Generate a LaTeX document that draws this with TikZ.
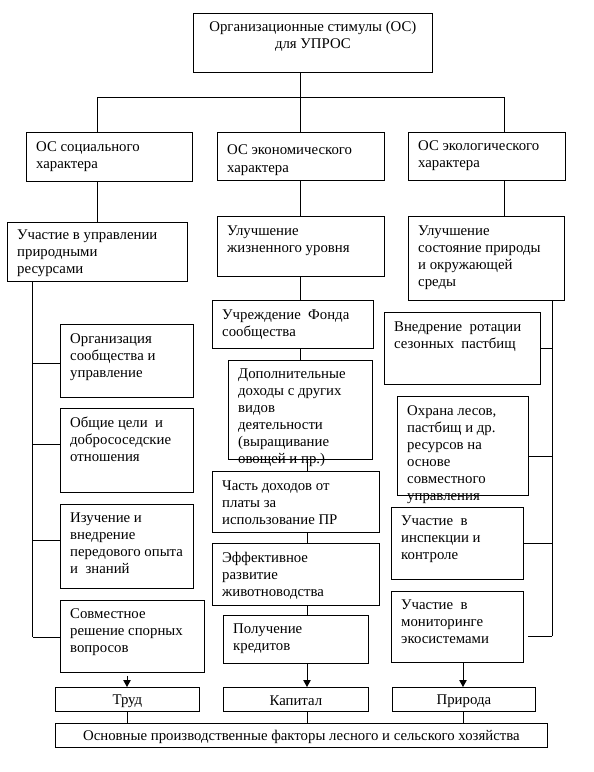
\documentclass[tikz,border=0pt]{standalone}
\usepackage{fontspec}
\setmainfont{Liberation Serif}
\usetikzlibrary{arrows.meta,calc}
\newcommand\fs{\fontsize{14.8}{17}\selectfont}
\tikzset{
  box/.style={draw, line width=0.8pt, inner sep=0pt, anchor=north west},
  txt/.style={inner sep=0pt, anchor=north west, align=left, font=\fs},
  ctxt/.style={inner sep=0pt, anchor=north, align=center, font=\fs},
  mtxt/.style={inner sep=0pt, anchor=center, align=center, font=\fs},
  ln/.style={line width=0.8pt},
  arr/.style={line width=0.8pt, -{Triangle[width=7.5pt,length=7pt]}},
}
% name, x, y, w, h, extra y shift, text
\newcommand\mkbox[7]{%
  \node[box, minimum width=#4pt, minimum height=#5pt] (#1) at (#2,#3) {};
  \node[txt] (#1-t) at ([xshift=10pt,yshift=-7pt+#6pt]#1.north west) {\strut #7};
}
\begin{document}
\begin{tikzpicture}[x=1pt,y=-1pt]
\useasboundingbox (0,0) rectangle (594,772);
\fill[white] (0,0) rectangle (594,772);

% top
\node[box, minimum width=239pt, minimum height=59pt] (top) at (193,13) {};
\node[ctxt] (top-t) at ([yshift=-6.5pt]top.north) {\strut Организационные стимулы (ОС)\\для УПРОС};

% row 2
\mkbox{soc}{26}{132}{166}{49}{0}{ОС социального\\характера}
\node[box, minimum width=167pt, minimum height=48pt] (eco2) at (217,132) {};
\node[txt, font=\fontsize{14.8}{18}\selectfont] (eco2-t) at ([xshift=10pt,yshift=-9.5pt]eco2.north west) {\strut ОС экономического\\характера};
\mkbox{ecl}{408}{132}{157}{48}{1}{ОС экологического\\характера}

% social column
\mkbox{upr}{7}{222}{180}{59}{2}{Участие в управлении\\природными\\ресурсами}
\mkbox{org}{60}{324}{133}{73}{0}{Организация\\сообщества и\\управление}
\mkbox{obsh}{60}{408}{133}{84}{0}{Общие цели \ и\\добрососедские\\отношения}
\mkbox{izuch}{60}{504}{133}{84}{0.5}{Изучение и\\внедрение\\передового опыта\\и \ знаний}
\mkbox{sovm}{60}{600}{144}{72}{0.5}{Совместное\\решение спорных\\вопросов}

% economic column
\mkbox{zhiz}{217}{216}{167}{60}{0}{Улучшение\\жизненного уровня}
\mkbox{fond}{212}{300}{161}{48}{0}{Учреждение \ Фонда\\сообщества}
\mkbox{dop}{228}{360}{144}{99}{0.5}{Дополнительные\\доходы с других\\видов\\деятельности\\(выращивание\\овощей и пр.)}
\mkbox{chast}{212}{471}{167}{61}{0}{Часть доходов от\\платы за\\использование ПР}
\mkbox{eff}{212}{543}{167}{62}{0}{Эффективное\\развитие\\животноводства}
\mkbox{kred}{223}{615}{145}{48}{0.5}{Получение\\кредитов}

% ecological column
\mkbox{sost}{408}{216}{156}{84}{0}{Улучшение\\состояние природы\\и окружающей\\среды}
\mkbox{rot}{384}{312}{156}{72}{0}{Внедрение \ ротации\\сезонных \ пастбищ}
\mkbox{ohr}{397}{396}{131}{99}{0}{Охрана лесов,\\пастбищ и др.\\ресурсов на\\основе\\совместного\\управления}
\mkbox{insp}{391}{507}{132}{72}{0.5}{Участие \ в\\инспекции и\\контроле}
\mkbox{mon}{391}{591}{132}{71}{0.5}{Участие \ в\\мониторинге\\экосистемами}

% bottom
\node[box, minimum width=144pt, minimum height=24pt] (trud) at (55,687) {};
\node[mtxt] (trud-t) at ([yshift=-1.5pt]trud.center) {Труд};
\node[box, minimum width=145pt, minimum height=24pt] (kap) at (223,687) {};
\node[mtxt] (kap-t) at ([yshift=-1.5pt]kap.center) {Капитал};
\node[box, minimum width=143pt, minimum height=24pt] (prir) at (392,687) {};
\node[mtxt] (prir-t) at ([yshift=-1.5pt]prir.center) {Природа};
\node[box, minimum width=492pt, minimum height=24pt] (osn) at (55,723) {};
\node[mtxt] (osn-t) at ([yshift=-1.5pt]osn.center) {Основные производственные факторы лесного и сельского хозяйства};

% bus
\coordinate (bL) at (97,97);
\coordinate (bM) at (300,97);
\coordinate (bR) at (504,97);
\draw[ln] (bM |- top.south) -- (bM);
\draw[ln] (bL) -- (bR);
\draw[ln] (bL) -- (bL |- soc.north);
\draw[ln] (bM) -- (bM |- eco2.north);
\draw[ln] (bR) -- (bR |- ecl.north);
\draw[ln] (bL |- soc.south) -- (bL |- upr.north);
\draw[ln] (bM |- eco2.south) -- (bM |- zhiz.north);
\draw[ln] (bR |- ecl.south) -- (bR |- sost.north);

% economic chain
\coordinate (eX) at (307,0);
\draw[ln] (bM |- zhiz.south) -- (bM |- fond.north);
\draw[ln] (bM |- fond.south) -- (bM |- dop.north);
\draw[ln] (eX |- dop.south) -- (eX |- chast.north);
\draw[ln] (eX |- chast.south) -- (eX |- eff.north);
\draw[ln] (eX |- eff.south) -- (eX |- kred.north);

% left spine
\coordinate (lX) at (32.5,0);
\coordinate (l1) at (32.5,363);
\coordinate (l2) at (32.5,444);
\coordinate (l3) at (32.5,540);
\coordinate (l4) at (32.5,637);
\draw[ln] (lX |- upr.south) -- (l4);
\draw[ln] (l1) -- (l1 -| org.west);
\draw[ln] (l2) -- (l2 -| obsh.west);
\draw[ln] (l3) -- (l3 -| izuch.west);
\draw[ln] (l4) -- (l4 -| sovm.west);

% right spine
\coordinate (rX) at (552,0);
\coordinate (r1) at (552,348);
\coordinate (r2) at (552,456);
\coordinate (r3) at (552,543);
\coordinate (r4) at (552,636);
\coordinate (r4e) at (528,636);
\draw[ln] (rX |- sost.south) -- (r4);
\draw[ln] (r1) -- (r1 -| rot.east);
\draw[ln] (r2) -- (r2 -| ohr.east);
\draw[ln] (r3) -- (r3 -| insp.east);
\draw[ln] (r4) -- (r4e);

% arrows to factors
\coordinate (tX) at (127,0);
\coordinate (pX) at (463,0);
\draw[arr, shorten <=3pt] (tX |- sovm.south) -- (tX |- trud.north);
\draw[arr] (eX |- kred.south) -- (eX |- kap.north);
\draw[arr] (pX |- mon.south) -- (pX |- prir.north);
\draw[ln] (tX |- trud.south) -- (tX |- osn.north);
\draw[ln] (eX |- kap.south) -- (eX |- osn.north);
\draw[ln] (pX |- prir.south) -- (pX |- osn.north);
\end{tikzpicture}
\end{document}
